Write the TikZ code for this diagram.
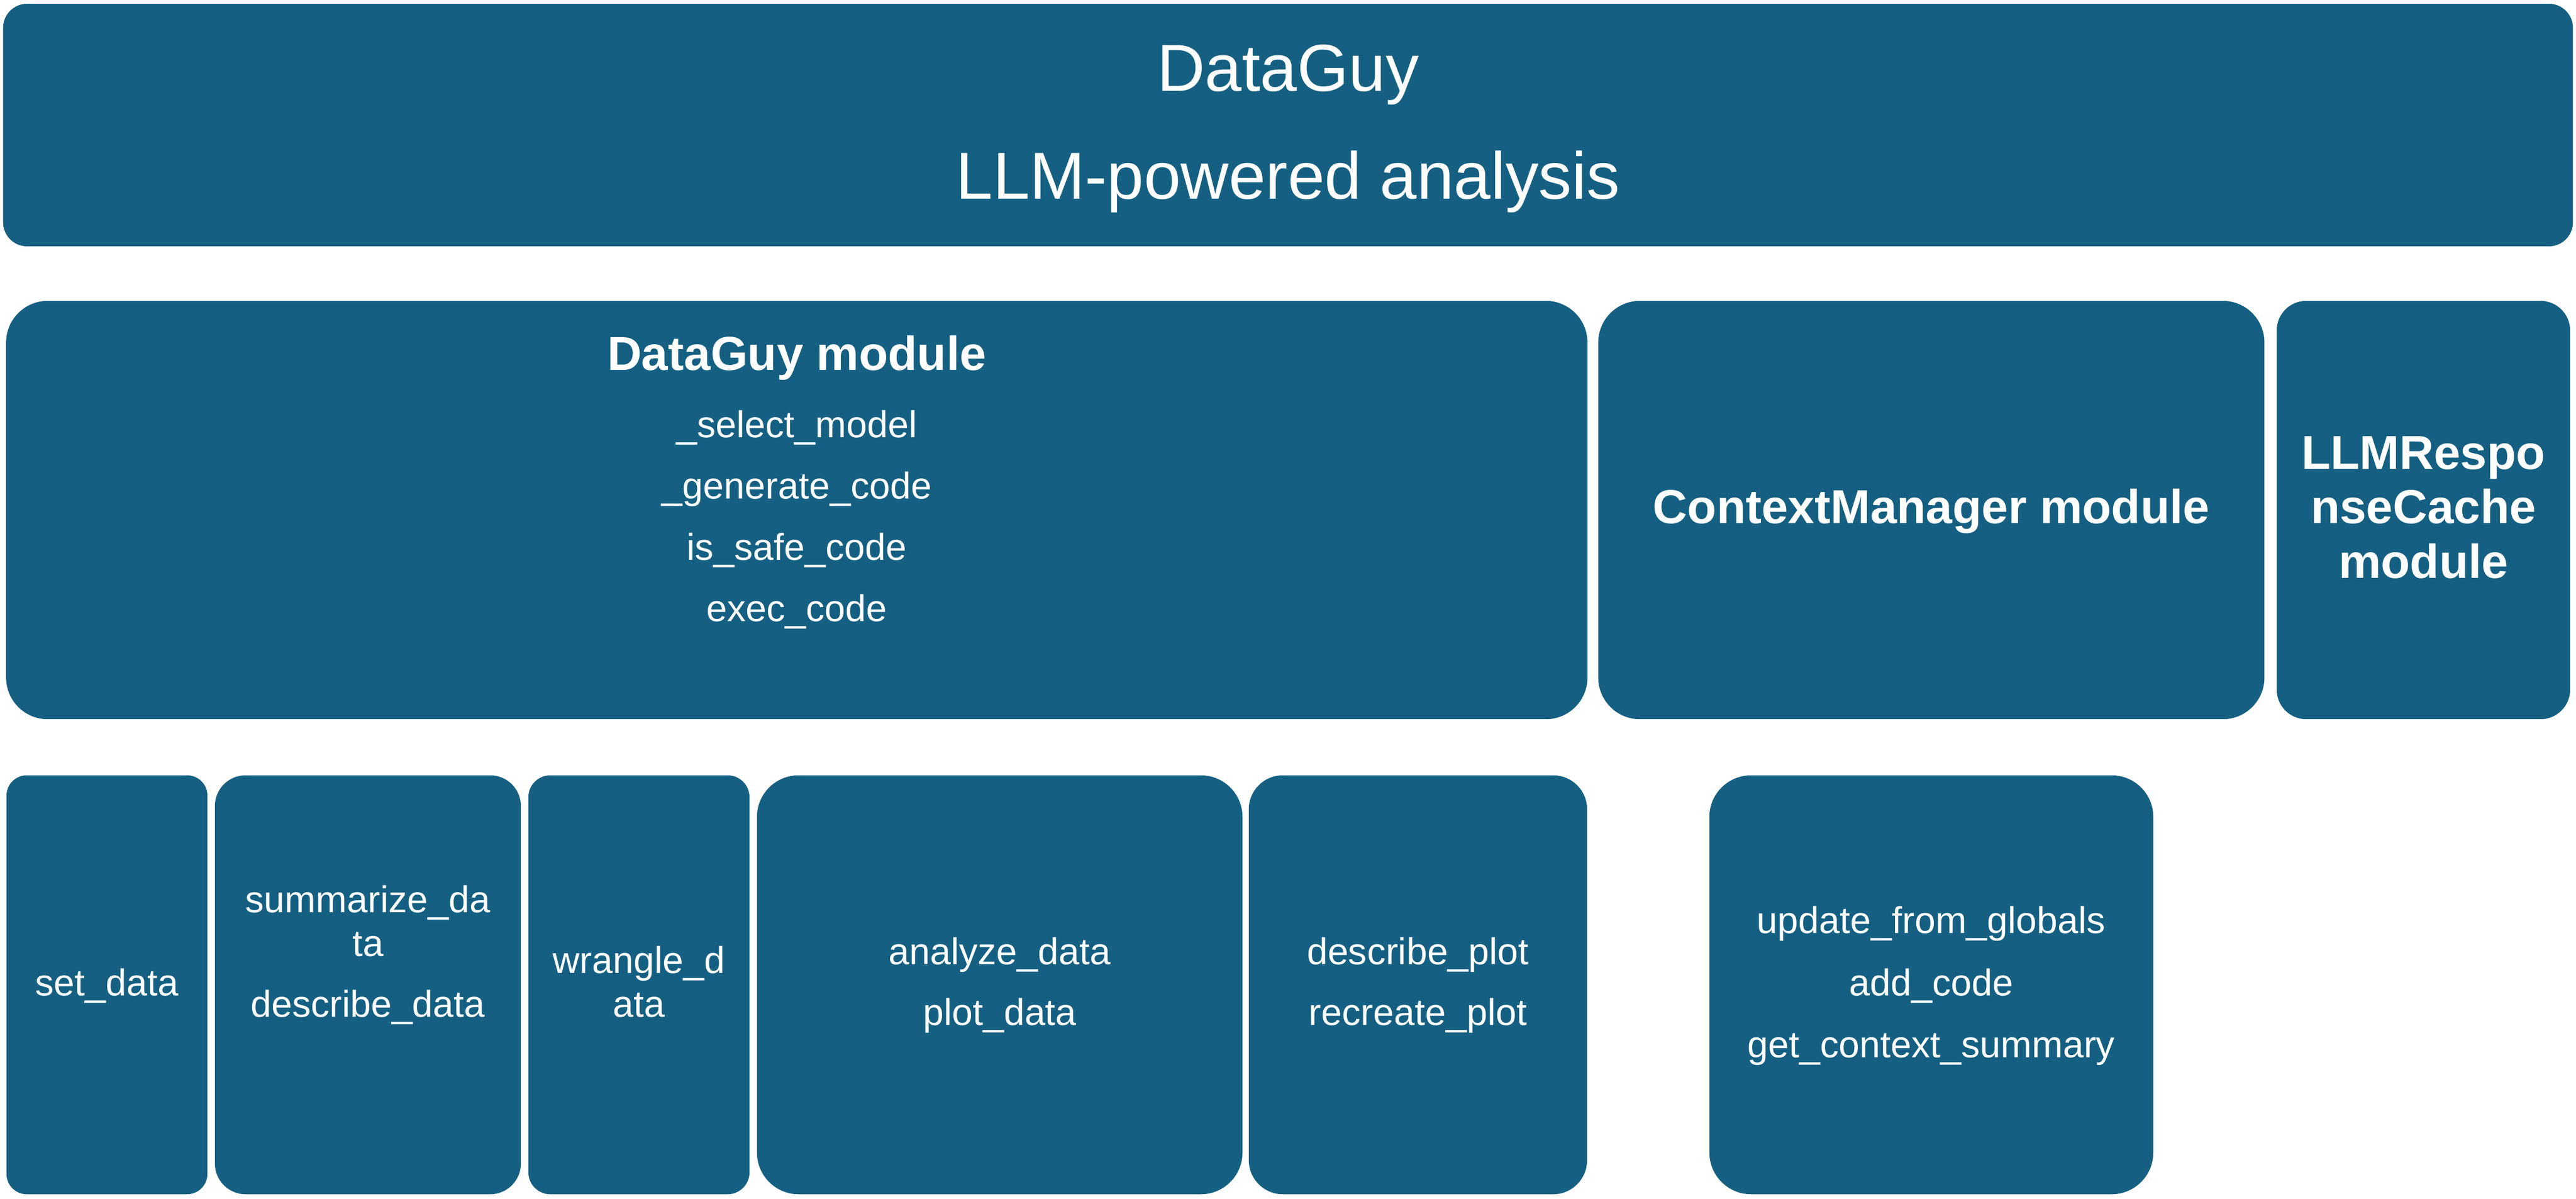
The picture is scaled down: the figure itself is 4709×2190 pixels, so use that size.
\documentclass[tikz,border=0pt]{standalone}
\usepackage{fontspec}
\setmainfont{Liberation Sans}
\usepackage{tikz}

\definecolor{modblue}{HTML}{156082}
\tikzset{
  modbox/.style={fill=modblue,inner sep=0pt},
  method/.style={text=white,anchor=base,inner sep=0pt,font=\fontsize{19.4}{23}\selectfont},
  modname/.style={text=white,anchor=base,inner sep=0pt,font=\bfseries\fontsize{24.8}{30}\selectfont},
  bigtitle/.style={text=white,anchor=base,inner sep=0pt,font=\fontsize{34.5}{40}\selectfont}
}

\begin{document}
\begin{tikzpicture}[x=0.01cm,y=-0.01cm]
    \useasboundingbox (0,0) rectangle (4709,2190);

    \node (banner) at (2354.5,228.5) [modbox,minimum width=46.95cm,minimum height=4.43cm,rounded corners=0.44cm] {};
    \node (title) at (2354.5,166) [bigtitle] {DataGuy};
    \node (subtitle) at (2354.5,363) [bigtitle] {LLM-powered analysis};

    % modules
    \node (dgbox) at (1456.5,932) [modbox,minimum width=28.89cm,minimum height=7.64cm,rounded corners=0.76cm] {};
    \node (dgname) at (1456.5,676) [modname] {DataGuy module};
    \node (selmodel) at (1456.5,799) [method] {\_select\_model};
    \node (gencode) at (1456.5,911) [method] {\_generate\_code};
    \node (safecode) at (1456.5,1023) [method] {is\_safe\_code};
    \node (execcode) at (1456.5,1135) [method] {exec\_code};

    \node (cmbox) at (3530.5,932) [modbox,minimum width=12.17cm,minimum height=7.64cm,rounded corners=0.76cm] {};
    \node (cmname) at (3530.5,956) [modname] {ContextManager module};

    \node (cachebox) at (4430,932) [modbox,minimum width=5.36cm,minimum height=7.64cm,rounded corners=0.54cm] {};
    \node (cachea) at (4430,857) [modname] {LLMRespo};
    \node (cacheb) at (4430,956) [modname] {nseCache};
    \node (cachec) at (4430,1056) [modname] {module};

    % methods
    \node (setbox) at (195.5,1799.5) [modbox,minimum width=3.67cm,minimum height=7.65cm,rounded corners=0.37cm] {};
    \node (setdata) at (195.5,1819) [method] {set\_data};

    \node (sumbox) at (672.5,1799.5) [modbox,minimum width=5.59cm,minimum height=7.65cm,rounded corners=0.56cm] {};
    \node (suma) at (672.5,1667) [method] {summarize\_da};
    \node (sumb) at (672.5,1747) [method] {ta};
    \node (descdata) at (672.5,1858) [method] {describe\_data};

    \node (wrbox) at (1168,1799.5) [modbox,minimum width=4.04cm,minimum height=7.65cm,rounded corners=0.40cm] {};
    \node (wra) at (1168,1778) [method] {wrangle\_d};
    \node (wrb) at (1168,1858) [method] {ata};

    \node (anbox) at (1827.5,1799.5) [modbox,minimum width=8.87cm,minimum height=7.65cm,rounded corners=0.76cm] {};
    \node (andata) at (1827.5,1762) [method] {analyze\_data};
    \node (plotdata) at (1827.5,1873) [method] {plot\_data};

    \node (plotbox) at (2592,1799.5) [modbox,minimum width=6.18cm,minimum height=7.65cm,rounded corners=0.62cm] {};
    \node (descplot) at (2592,1762) [method] {describe\_plot};
    \node (recplot) at (2592,1873) [method] {recreate\_plot};

    \node (ctxbox) at (3530.5,1799.5) [modbox,minimum width=8.11cm,minimum height=7.65cm,rounded corners=0.76cm] {};
    \node (updglob) at (3530.5,1705) [method] {update\_from\_globals};
    \node (addcode) at (3530.5,1819) [method] {add\_code};
    \node (ctxsum) at (3530.5,1932) [method] {get\_context\_summary};
\end{tikzpicture}
\end{document}
